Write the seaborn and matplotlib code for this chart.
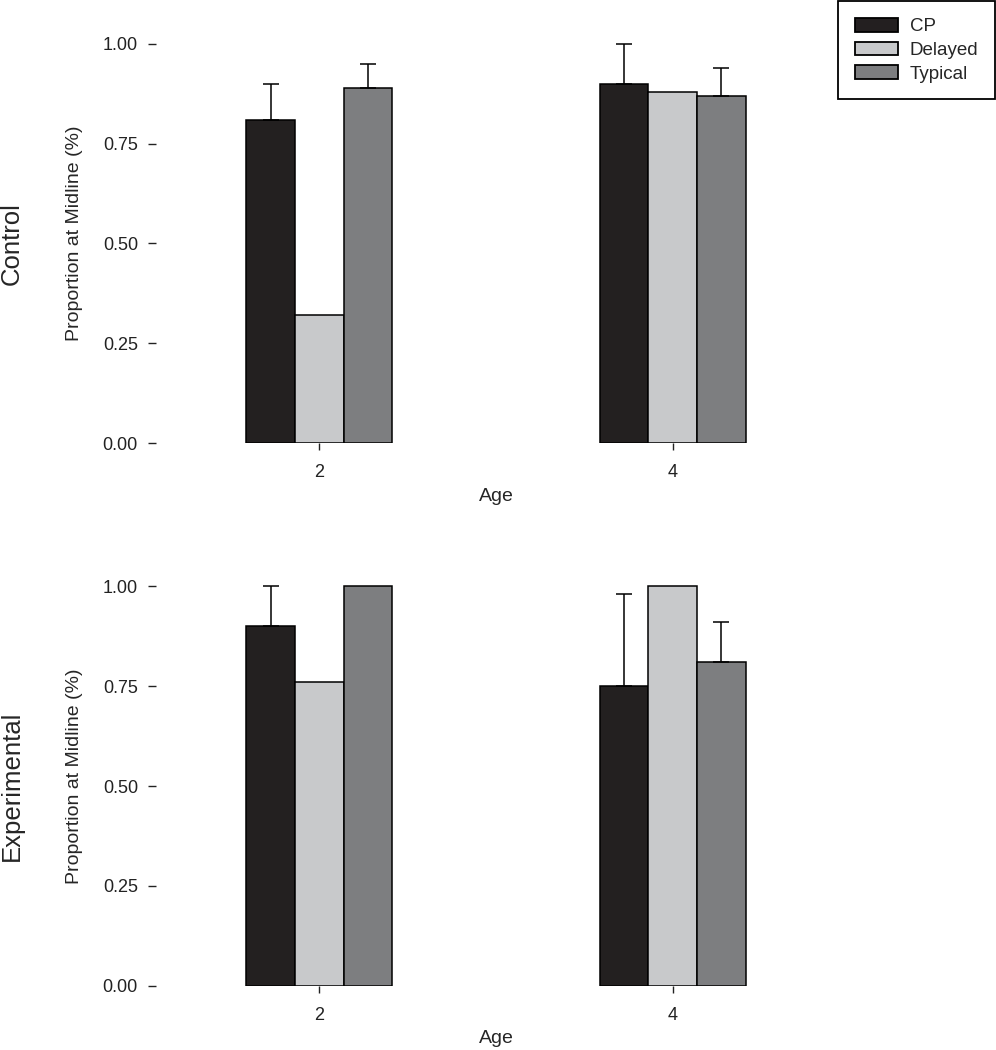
import pandas as pd
import matplotlib
matplotlib.use("Agg")
import matplotlib.pyplot as plt
import seaborn as sns

ages = ["2", "4"]
groups = ["CP", "Delayed", "Typical"]
conditions = ["Control", "Experimental"]

# mean proportion at midline, per condition -> age -> group order
control_means = [[0.81, 0.32, 0.89], [0.90, 0.88, 0.87]]
experimental_means = [[0.90, 0.76, 1.00], [0.75, 1.00, 0.81]]
# upper end of the error bar (None = no bar drawn)
control_upper = [[0.90, None, 0.95], [1.00, None, 0.94]]
experimental_upper = [[1.00, None, None], [0.98, None, 0.91]]

colors = {"CP": "#231f20", "Delayed": "#c8c9cb", "Typical": "#7d7e80"}

rows = []
for cond, means, uppers in [("Control", control_means, control_upper),
                            ("Experimental", experimental_means, experimental_upper)]:
    for i, age in enumerate(ages):
        for j, grp in enumerate(groups):
            rows.append({"condition": cond, "age": age, "group": grp,
                         "mean": means[i][j], "upper": uppers[i][j]})
df = pd.DataFrame(rows)

sns.set_style("ticks")
plt.rcParams["font.family"] = ["Liberation Sans", "DejaVu Sans"]
plt.rcParams["xtick.major.size"] = 5
plt.rcParams["ytick.major.size"] = 6
plt.rcParams["xtick.major.width"] = 1
plt.rcParams["ytick.major.width"] = 1
plt.rcParams["xtick.color"] = "#222222"
plt.rcParams["ytick.color"] = "#222222"

fig = plt.figure(figsize=(9.96, 10.5), dpi=100)
W, H = 996, 1050
ax_left, ax_width = 156 / W, 680 / W
ax_height = 419.3 / H
bottoms = [(H - 443) / H, (H - 985.7) / H]

for cond, bottom in zip(conditions, bottoms):
    ax = fig.add_axes([ax_left, bottom, ax_width, ax_height])
    sub = df[df["condition"] == cond]
    sns.barplot(data=sub, x="age", y="mean", hue="group", order=ages,
                hue_order=groups, palette=colors, width=0.413, errorbar=None,
                edgecolor="black", linewidth=1.1, legend=False, ax=ax)
    # upward-only error bars, placed on each bar's centre
    for grp, cont in zip(groups, ax.containers):
        for bar in cont:
            xc = bar.get_x() + bar.get_width() / 2
            age = ages[int(round(xc))]
            r = sub[(sub["age"] == age) & (sub["group"] == grp)].iloc[0]
            if pd.notna(r["upper"]):
                ax.errorbar(xc, r["mean"], yerr=[[0], [r["upper"] - r["mean"]]],
                            color="black", elinewidth=1.1, capsize=5.8,
                            capthick=1.1, zorder=1, clip_on=False)
    ax.set_xlim(-0.462, 1.462)
    ax.set_ylim(0, 1.05)
    ax.set_yticks([0, 0.25, 0.5, 0.75, 1.0])
    ax.set_yticklabels(["0.00", "0.25", "0.50", "0.75", "1.00"])
    ax.tick_params(axis="y", labelsize=13, pad=7)
    ax.tick_params(axis="x", labelsize=13, pad=10)
    ax.set_xlabel("Age", fontsize=14, labelpad=5)
    ax.set_ylabel("Proportion at Midline (%)", fontsize=14, labelpad=14)
    sns.despine(ax=ax, left=True, bottom=True)
    mid = bottom + (0.5 / 1.05) * ax_height
    fig.text(0.012, mid, cond, rotation=90, fontsize=18.5,
             ha="center", va="center")

handles = [plt.Rectangle((0, 0), 1, 1, facecolor=colors[g], edgecolor="black",
                         linewidth=1.3) for g in groups]
leg = fig.legend(handles, groups, loc="upper right", bbox_to_anchor=(0.999, 0.999),
                 fontsize=13.5, frameon=True, fancybox=False, framealpha=1,
                 edgecolor="black", handlelength=2.3, handleheight=0.75,
                 handletextpad=0.6, labelspacing=0.33, borderpad=0.9,
                 borderaxespad=0)
leg.get_frame().set_linewidth(1.3)

fig.savefig("out.png", dpi=100)
